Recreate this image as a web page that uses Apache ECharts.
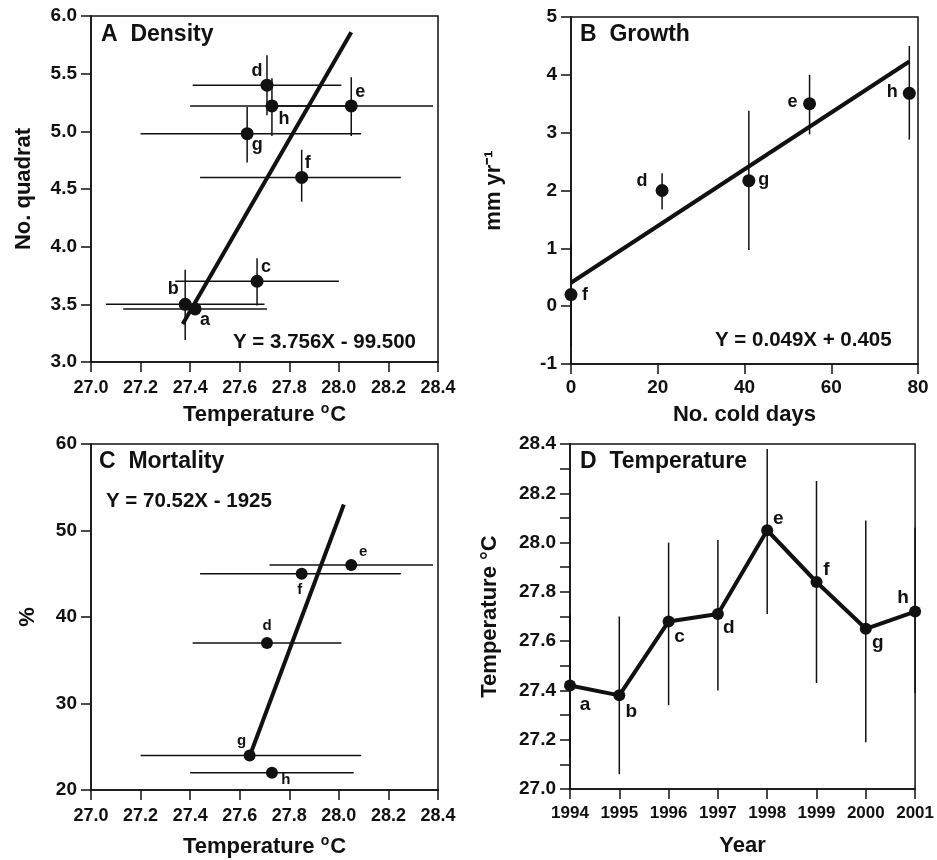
<!DOCTYPE html>
<html><head><meta charset="utf-8">
<script src="https://cdn.jsdelivr.net/npm/echarts@6/dist/echarts.min.js"></script>
<style>html,body{margin:0;padding:0;background:#fff}#c{width:937px;height:860px}</style>
</head><body><div id="c"></div>
<script>
// ---------- Panel A: Density vs temperature ----------
const aLabels  = ['a','b','c','d','e','f','g','h'];
const aTemp    = [27.42,27.38,27.67,27.71,28.05,27.85,27.63,27.73];
const aDensity = [3.46,3.50,3.70,5.40,5.22,4.60,4.98,5.22];
const aTempLo  = [27.13,27.06,27.34,27.41,27.72,27.44,27.20,27.40];
const aTempHi  = [27.71,27.70,28.00,28.01,28.38,28.25,28.09,28.06];
const aDensLo  = [null,3.19,3.49,5.14,4.96,4.39,4.73,4.96];
const aDensHi  = [null,3.80,3.90,5.66,5.47,4.84,5.21,5.46];
const aFitX    = [27.37,28.05];
const aFitY    = [3.33,5.86];
const aXTicks  = [27.0,27.2,27.4,27.6,27.8,28.0,28.2,28.4];
const aYTicks  = [3.0,3.5,4.0,4.5,5.0,5.5,6.0];

// ---------- Panel B: Growth vs cold days ----------
const bLabels  = ['f','d','g','e','h'];
const bDays    = [0,21,41,55,78];
const bGrowth  = [0.20,2.00,2.17,3.50,3.68];
const bLo      = [-0.70,1.67,0.97,2.97,2.88];
const bHi      = [1.10,2.30,3.38,4.00,4.50];
const bFitX    = [0,78];
const bFitY    = [0.405,4.23];
const bXTicks  = [0,20,40,60,80];
const bYTicks  = [-1,0,1,2,3,4,5];

// ---------- Panel C: Mortality vs temperature ----------
const cLabels  = ['e','f','d','g','h'];
const cTemp    = [28.05,27.85,27.71,27.64,27.73];
const cMort    = [46,45,37,24,22];
const cTempLo  = [27.72,27.44,27.41,27.20,27.40];
const cTempHi  = [28.38,28.25,28.01,28.09,28.06];
const cFitX    = [27.64,28.02];
const cFitY    = [23.9,53.0];
const cYTicks  = [20,30,40,50,60];

// ---------- Panel D: Temperature by year ----------
const dLabels  = ['a','b','c','d','e','f','g','h'];
const dYears   = [1994,1995,1996,1997,1998,1999,2000,2001];
const dTemp    = [27.42,27.38,27.68,27.71,28.05,27.84,27.65,27.72];
const dLo      = [27.13,27.06,27.34,27.40,27.71,27.43,27.19,27.39];
const dHi      = [27.71,27.70,28.00,28.01,28.38,28.25,28.09,28.06];
const dYTicks  = [27.0,27.2,27.4,27.6,27.8,28.0,28.2,28.4];

// label offsets (style only)
const aOff = [[10,11],[-12,-15],[9,-14],[-10,-14],[9,-14],[6,-14],[10,11],[12,13]];
const bOff = [[14,0],[-20,-9],[15,-1],[-17,-2],[-17,-1]];
const cOff = [[12,-13],[-2,16],[0,-17],[-8,-15],[14,7]];
const dOff = [[15,19],[12,16],[11,15],[11,14],[11,-11],[10,-12],[12,14],[-12,-14]];

const FF = '"Liberation Sans", Arial, Helvetica, sans-serif';
const INK = '#111';
const chart = echarts.init(document.getElementById('c'));

function nz(v){ return v == null ? '-' : v; }
function errRender(params, api){
  const y = api.value(1), x = api.value(0);
  const xl = api.value(2), xh = api.value(3), yl = api.value(4), yh = api.value(5);
  const ch = [];
  const st = {stroke: INK, lineWidth: 1.5};
  if (!isNaN(xl) && !isNaN(xh)) {
    const p1 = api.coord([xl, y]), p2 = api.coord([xh, y]);
    ch.push({type:'line', shape:{x1:p1[0],y1:p1[1],x2:p2[0],y2:p2[1]}, style:st});
  }
  if (!isNaN(yl) && !isNaN(yh)) {
    const p1 = api.coord([x, yl]), p2 = api.coord([x, yh]);
    ch.push({type:'line', shape:{x1:p1[0],y1:p1[1],x2:p2[0],y2:p2[1]}, style:st});
  }
  return {type:'group', children: ch};
}
function valAxis(o){
  const baseLabel = {color:INK, fontSize:18, fontWeight:'bold', fontFamily:FF, margin:14};
  const base = {
    type:'value',
    axisLine:{show:true, onZero:false, lineStyle:{color:INK, width:1.5}},
    axisTick:{show:true, inside:false, length:10, lineStyle:{color:INK, width:1.5}},
    splitLine:{show:false},
    nameLocation:'middle',
    nameTextStyle:{color:INK, fontSize:22, fontWeight:'bold', fontFamily:FF,
      rich:{s:{fontSize:14, fontWeight:'bold', fontFamily:FF, color:INK, verticalAlign:'top', padding:[0,1,12,0]}}}
  };
  const r = Object.assign(base, o);
  r.axisLabel = Object.assign(baseLabel, o.axisLabel || {});
  return r;
}
function pts(xs, ys, labels, offs, fs){
  return xs.map((x,i)=>({value:[x, ys[i]], label:{show:true, formatter:labels[i], position:'inside', offset:offs[i], color:INK, fontSize:fs, fontWeight:'bold', fontFamily:FF}}));
}
function fitLine(xs, ys){ return xs.map((x,i)=>[x, ys[i]]); }
function gridBox(l,t,w,h){ return {left:l, top:t, width:w, height:h, show:true, borderColor:INK, borderWidth:1.5, backgroundColor:'transparent', containLabel:false}; }
function dot(size){ return {type:'scatter', symbol:'circle', symbolSize:size, itemStyle:{color:INK, opacity:1}, emphasis:{disabled:true}, z:5}; }
function txt(x,y,s,fs){ return {type:'text', x:x, y:y, style:{text:s, fill:INK, font:'bold '+fs+'px '+FF, textVerticalAlign:'middle', textAlign:'left'}, z:10}; }

const option = {
  backgroundColor:'#fff',
  animation:false,
  grid:[gridBox(91,16,347,346), gridBox(571,17,347,347), gridBox(91,444,347,346), gridBox(570,444,346,345)],
  xAxis:[
    valAxis({gridIndex:0, min:aXTicks[0], max:aXTicks[aXTicks.length-1], interval:0.2, name:'Temperature {s|o}C', nameGap:40, axisLabel:{formatter:v=>v.toFixed(1), margin:17}}),
    valAxis({gridIndex:1, min:bXTicks[0], max:bXTicks[bXTicks.length-1], interval:20, name:'No. cold days', nameGap:40, axisLabel:{fontSize:19, margin:14}}),
    valAxis({gridIndex:2, min:aXTicks[0], max:aXTicks[aXTicks.length-1], interval:0.2, name:'Temperature {s|o}C', nameGap:44, axisLabel:{formatter:v=>v.toFixed(1), margin:17}}),
    valAxis({gridIndex:3, min:dYears[0], max:dYears[dYears.length-1], interval:1, name:'Year', nameGap:46, axisLabel:{fontSize:17, margin:16, formatter:v=>String(v)}})
  ],
  yAxis:[
    valAxis({gridIndex:0, min:aYTicks[0], max:aYTicks[aYTicks.length-1], interval:0.5, name:'No. quadrat', nameGap:56, axisLabel:{formatter:v=>v.toFixed(1), fontSize:19}}),
    valAxis({gridIndex:1, min:bYTicks[0], max:bYTicks[bYTicks.length-1], interval:1, name:'mm yr\u207B\u00B9', nameGap:66, axisLabel:{fontSize:19}}),
    valAxis({gridIndex:2, min:cYTicks[0], max:cYTicks[cYTicks.length-1], interval:10, name:'%', nameGap:52, axisLabel:{fontSize:19}}),
    valAxis({gridIndex:3, min:dYTicks[0], max:dYTicks[dYTicks.length-1], interval:0.1, name:'Temperature \u00B0C', nameGap:69,
      axisLabel:{fontSize:19, formatter:v=>(Math.round(v*10)%2===0 ? v.toFixed(1) : '')}})
  ],
  series:[
    // A
    {type:'custom', xAxisIndex:0, yAxisIndex:0, renderItem:errRender, encode:{x:0,y:1}, z:2,
      data:aTemp.map((x,i)=>[x, aDensity[i], aTempLo[i], aTempHi[i], nz(aDensLo[i]), nz(aDensHi[i])])},
    Object.assign(dot(13), {xAxisIndex:0, yAxisIndex:0, data:pts(aTemp, aDensity, aLabels, aOff, 18)}),
    {type:'line', xAxisIndex:0, yAxisIndex:0, data:fitLine(aFitX, aFitY), symbol:'none', lineStyle:{color:INK, width:4}, z:4},
    // B
    {type:'custom', xAxisIndex:1, yAxisIndex:1, renderItem:errRender, encode:{x:0,y:1}, z:2,
      data:bDays.map((x,i)=>[x, bGrowth[i], '-', '-', bLo[i], bHi[i]])},
    Object.assign(dot(13), {xAxisIndex:1, yAxisIndex:1, data:pts(bDays, bGrowth, bLabels, bOff, 18)}),
    {type:'line', xAxisIndex:1, yAxisIndex:1, data:fitLine(bFitX, bFitY), symbol:'none', lineStyle:{color:INK, width:4}, z:4},
    // C
    {type:'custom', xAxisIndex:2, yAxisIndex:2, renderItem:errRender, encode:{x:0,y:1}, z:2,
      data:cTemp.map((x,i)=>[x, cMort[i], cTempLo[i], cTempHi[i], '-', '-'])},
    Object.assign(dot(12), {xAxisIndex:2, yAxisIndex:2, data:pts(cTemp, cMort, cLabels, cOff, 15)}),
    {type:'line', xAxisIndex:2, yAxisIndex:2, data:fitLine(cFitX, cFitY), symbol:'none', lineStyle:{color:INK, width:4}, z:4},
    // D
    {type:'custom', xAxisIndex:3, yAxisIndex:3, renderItem:errRender, encode:{x:0,y:1}, z:2,
      data:dYears.map((x,i)=>[x, dTemp[i], '-', '-', dLo[i], dHi[i]])},
    {type:'line', xAxisIndex:3, yAxisIndex:3, data:pts(dYears, dTemp, dLabels, dOff, 19), symbol:'circle', symbolSize:12,
      itemStyle:{color:INK, opacity:1}, lineStyle:{color:INK, width:4}, emphasis:{disabled:true}, z:5}
  ],
  graphic:[
    txt(101,35,'A  Density',23),
    txt(580,35,'B  Growth',23),
    txt(99,462,'C  Mortality',23),
    txt(580,462,'D  Temperature',23),
    txt(233,342,'Y = 3.756X - 99.500',20.5),
    txt(715,340,'Y = 0.049X + 0.405',20.5),
    txt(106,501,'Y = 70.52X - 1925',20.5)
  ]
};
chart.setOption(option);
</script></body></html>
